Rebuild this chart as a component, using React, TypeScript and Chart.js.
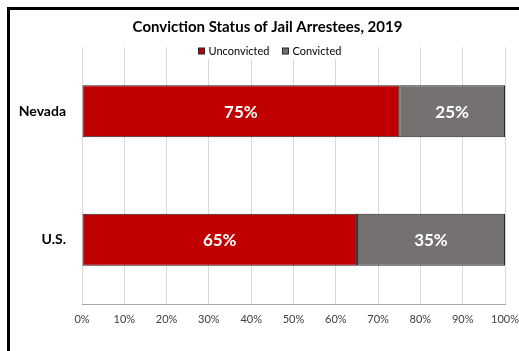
import React, { useEffect, useRef } from "react";
import { Chart, registerables } from "chart.js";

Chart.register(...registerables);

const title = "Conviction Status of Jail Arrestees, 2019";
const categories = ["Nevada", "U.S."];
const unconvicted = [75, 65];
const convicted = [25, 35];
const seriesNames = ["Unconvicted", "Convicted"];
const seriesColors = ["#C00000", "#767171"];
const xTicks = [0, 10, 20, 30, 40, 50, 60, 70, 80, 90, 100];

const FONT = "Lato, 'Liberation Sans', sans-serif";

const overlayPlugin = {
  id: "overlay",
  afterDatasetsDraw(chart: any) {
    const ctx = chart.ctx;
    ctx.save();
    ctx.fillStyle = "#ffffff";
    ctx.font = `bold 17px ${FONT}`;
    ctx.textAlign = "center";
    ctx.textBaseline = "middle";
    chart.data.datasets.forEach((ds: any, di: number) => {
      const meta = chart.getDatasetMeta(di);
      meta.data.forEach((el: any, i: number) => {
        const p = el.getProps(["x", "y", "base"], true);
        ctx.fillText(ds.data[i] + "%", (p.x + p.base) / 2, p.y + 1);
      });
    });
    ctx.restore();
  },
  afterDraw(chart: any) {
    const ctx = chart.ctx;
    ctx.save();
    // title
    ctx.fillStyle = "#000";
    ctx.font = `bold 15px ${FONT}`;
    ctx.textAlign = "center";
    ctx.textBaseline = "middle";
    ctx.fillText(title, 267.5, 27);
    // legend
    ctx.font = `11px ${FONT}`;
    ctx.textAlign = "left";
    ctx.fillStyle = "#fff";
    ctx.fillRect(194, 40, 152, 19);
    let x = 198.5;
    const y = 51;
    seriesNames.forEach((name, i) => {
      ctx.fillStyle = seriesColors[i];
      ctx.fillRect(x, y - 3, 6, 6);
      ctx.strokeStyle = "#262626";
      ctx.lineWidth = 1;
      ctx.strokeRect(x, y - 3, 6, 6);
      ctx.fillStyle = "#000";
      ctx.fillText(name, x + 10, y);
      x += 10 + ctx.measureText(name).width + 13;
    });
    ctx.restore();
  },
};

export default function App() {
  const ref = useRef<HTMLCanvasElement>(null);
  useEffect(() => {
    if (!ref.current) return;
    const chart = new Chart(ref.current, {
      type: "bar",
      data: {
        labels: categories,
        datasets: [
          {
            label: seriesNames[0],
            data: unconvicted,
            backgroundColor: seriesColors[0],
            borderColor: "#262626",
            borderWidth: 1,
            borderSkipped: false,
          },
          {
            label: seriesNames[1],
            data: convicted,
            backgroundColor: seriesColors[1],
            borderColor: "#262626",
            borderWidth: 1,
            borderSkipped: false,
          },
        ],
      },
      options: {
        indexAxis: "y",
        responsive: false,
        animation: false,
        events: [],
        layout: { padding: { top: 47, right: 14, bottom: 0, left: 0 } },
        datasets: { bar: { categoryPercentage: 1, barPercentage: 0.405 } },
        plugins: { legend: { display: false }, title: { display: false }, tooltip: { enabled: false } },
        scales: {
          x: {
            stacked: true,
            min: 0,
            max: 100,
            afterBuildTicks: (s: any) => {
              s.ticks = xTicks.map((v) => ({ value: v }));
            },
            afterFit: (s: any) => {
              s.height = 47;
              s.paddingLeft = 0;
              s.paddingRight = 0;
            },
            ticks: {
              callback: (v: any) => v + "%",
              font: { family: FONT, size: 11 },
              color: "#404040",
              padding: 9,
              maxRotation: 0,
              autoSkip: false,
            },
            grid: { color: "#d9d9d9", drawTicks: false },
            border: { color: "#a6a6a6", width: 1 },
          },
          y: {
            stacked: true,
            afterFit: (s: any) => {
              s.width = 82;
            },
            ticks: {
              font: { family: FONT, size: 14, weight: "bold" },
              color: "#000",
              padding: 16,
            },
            grid: { display: false, drawTicks: false },
            border: { display: false },
          },
        },
      },
      plugins: [overlayPlugin],
    } as any);
    return () => chart.destroy();
  }, []);
  return (
    <div style={{ position: "fixed", left: 0, top: 0, width: 519, height: 351, overflow: "hidden", background: "#fff" }}>
      <canvas ref={ref} width={519} height={351} style={{ position: "absolute", left: 0, top: 0, width: 519, height: 351 }} />
      <div
        style={{
          position: "absolute",
          left: 7,
          top: 7,
          width: 600,
          height: 400,
          border: "3px solid #000",
          boxSizing: "border-box",
          pointerEvents: "none",
        }}
      />
    </div>
  );
}
